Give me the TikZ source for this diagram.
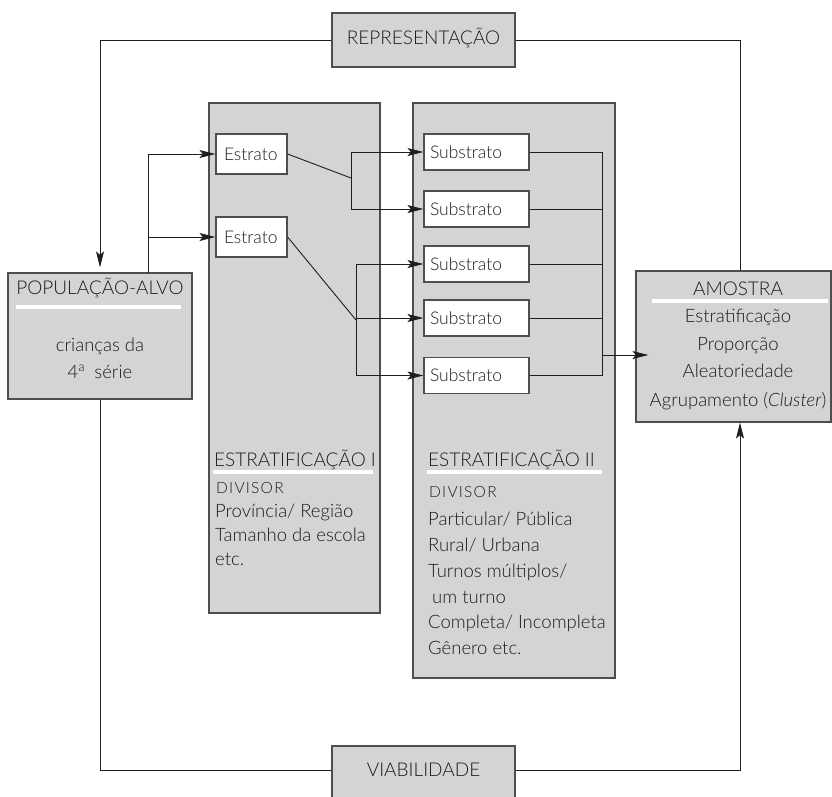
\documentclass[tikz,border=0pt]{standalone}
\usepackage{fontspec}
\IfFontExistsTF{Lato Light}
  {\setmainfont{Lato Light}[ItalicFont={Lato Light Italic}]}
  {\setmainfont{Lato}}
\usetikzlibrary{arrows.meta,calc}
\definecolor{panelgray}{HTML}{D3D4D6}
\definecolor{edgegray}{HTML}{4E4E4E}
\definecolor{inkgray}{HTML}{1C1C1C}
\definecolor{wiregray}{HTML}{1E1E1E}

\begin{document}
\begin{tikzpicture}[x=1pt,y=-1pt,
  panel/.style={draw=edgegray, line width=1.2pt, fill=panelgray, inner sep=0pt},
  whitebox/.style={draw=edgegray, line width=1.2pt, fill=white, inner ysep=0pt,
    font=\fontsize{17.5pt}{20pt}\selectfont, text=inkgray, align=left},
  txt/.style={font=\fontsize{18.5pt}{21pt}\selectfont, text=inkgray, inner sep=0pt,
    text height=12pt, text depth=4pt},
  caps/.style={font=\fontsize{19pt}{22pt}\selectfont, text=inkgray, inner sep=0pt,
    text height=12pt, text depth=4pt},
  small/.style={font=\fontsize{15.5pt}{18pt}\selectfont\addfontfeatures{LetterSpace=8}, text=inkgray, inner sep=0pt,
    text height=10pt, text depth=3pt},
  rulewhite/.style={draw=white, line width=3.5pt},
  wire/.style={draw=wiregray, line width=0.9pt},
  arr/.style={wire, -{Stealth[length=16pt,width=8pt,inset=3.5pt]}},
]
\useasboundingbox (0,0) rectangle (832,796);

% large stratification panels
\node[panel, minimum width=171pt, minimum height=510pt] (strat1) at (294.5,358) {};
\node[panel, minimum width=202pt, minimum height=575pt] (strat2) at (514,390.5) {};

% top and bottom criteria boxes
\node[panel, minimum width=183pt, minimum height=54pt] (rep) at (423.5,40) {};
\node[caps] (repText) at (423.5,40) {REPRESENTAÇÃO};
\node[panel, minimum width=183pt, minimum height=52pt] (via) at (423.5,772) {};
\node[caps] (viaText) at (423.5,772) {VIABILIDADE};

% target population
\node[panel, minimum width=184pt, minimum height=126pt] (pop) at (100,336) {};
\node[caps] (popTitle) at (100,290) {POPULAÇÃO-ALVO};
\draw[rulewhite] (16,307) -- (181,307);
\node[txt] (popL1) at (100,347) {crianças da};
\node[txt] (popL2) at (100,374) {4\textsuperscript{a}\enspace série};

% sample
\node[panel, minimum width=195pt, minimum height=151pt] (amostra) at (733.5,346.5) {};
\node[caps] (amTitle) at (738,291) {AMOSTRA};
\draw[rulewhite] (652,301) -- (828,301);
\node[txt] (amL1) at (738,318) {Estratificação};
\node[txt] (amL2) at (738,346) {Proporção};
\node[txt] (amL3) at (738,373) {Aleatoriedade};
\node[txt] (amL4) at (738,402) {Agrupamento (\textit{Cluster})};

% strata
\node[whitebox, minimum height=40pt, text width=55pt, inner xsep=8pt] (estr1) at (251.5,154) {Estrato};
\node[whitebox, minimum height=40pt, text width=55pt, inner xsep=8pt] (estr2) at (251.5,237) {Estrato};

% substrata
\foreach \i/\y in {1/152,2/209,3/264,4/318,5/375.5}
  \node[whitebox, minimum height=36pt, text width=93pt, inner xsep=6pt] (sub\i) at (476.5,\y) {Substrato};

% stratification I legend
\node[caps, anchor=west] (s1Title) at (214,462) {ESTRATIFICAÇÃO I};
\draw[rulewhite] (213,472) -- (373,472);
\node[small, anchor=west] (s1Div) at (216,490) {DIVISOR};
\node[txt, anchor=west] (s1L1) at (215,513) {Província/ Região};
\node[txt, anchor=west] (s1L2) at (215,537) {Tamanho da escola};
\node[txt, anchor=west] (s1L3) at (215,561) {etc.};

% stratification II legend
\node[caps, anchor=west] (s2Title) at (428,462) {ESTRATIFICAÇÃO II};
\draw[rulewhite] (427,472) -- (602,472);
\node[small, anchor=west] (s2Div) at (429,494) {DIVISOR};
\node[txt, anchor=west] (s2L1) at (428,521) {Particular/ Pública};
\node[txt, anchor=west] (s2L2) at (428,547) {Rural/ Urbana};
\node[txt, anchor=west] (s2L3) at (428,573) {Turnos múltiplos/};
\node[txt, anchor=west] (s2L4) at (432,599) {um turno};
\node[txt, anchor=west] (s2L5) at (428,624) {Completa/ Incompleta};
\node[txt, anchor=west] (s2L6) at (428,650) {Gênero etc.};

% junction points
\coordinate (popT) at (148,273);
\coordinate (j1) at (351,178);
\coordinate (j2) at (356,320);
\coordinate (col) at (602,355);
\coordinate (ain) at (740,0);

% outer feedback loop
\draw[arr, shorten >=5pt] (rep.west) -| (pop.north);
\draw[wire] (rep.east) -| (amostra.north -| ain);
\draw[wire] (pop.south) |- ([yshift=2pt]via.west);
\draw[arr] ([yshift=2pt]via.east) -| (amostra.south -| ain);

% population to strata
\draw[arr] (popT) |- (estr1.west);
\draw[arr] (estr2.west -| popT) -- (estr2.west);

% strata to substrata
\draw[wire] (estr1.east) -- (j1);
\draw[arr] (j1) |- (sub1.west);
\draw[arr] (j1) |- (sub2.west);
\draw[wire] (estr2.east) -- (j2);
\draw[arr] (j2) |- (sub3.west);
\draw[arr] (j2) |- (sub4.west);
\draw[arr] (j2) |- (sub5.west);

% substrata collected into the sample
\draw[wire] (sub1.east) -| (col);
\draw[wire] (sub5.east) -| (col);
\draw[wire] (sub2.east) -- (sub2.east -| col);
\draw[wire] (sub3.east) -- (sub3.east -| col);
\draw[wire] (sub4.east) -- (sub4.east -| col);
\draw[arr, shorten >=-13pt] (col) -- (amostra.west |- col);
\end{tikzpicture}
\end{document}
